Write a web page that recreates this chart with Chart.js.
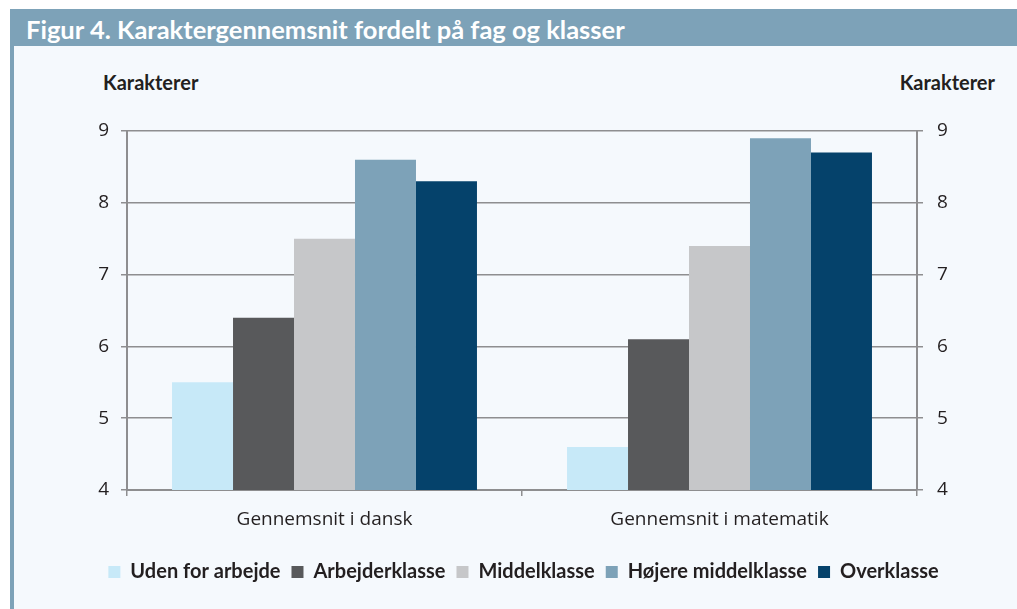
<!doctype html>
<html lang="da">
<head>
<meta charset="UTF-8" />
<title>Figur 4</title>
<style>
  body { margin: 0; background: #ffffff; width: 1017px; height: 609px; overflow: hidden; position: relative; font-family: Lato, sans-serif; }
  #bar { position: absolute; left: 10px; top: 9px; width: 1007px; height: 37px; background: #7da2b8; color: #ffffff; font: bold 25.5px Lato, sans-serif; line-height: 37px; box-sizing: border-box; padding-left: 16px; padding-top: 2px; }
  #panel { position: absolute; left: 10px; top: 46px; width: 1007px; height: 563px; background: #f5f9fd; border-left: 4px solid #7da2b8; box-sizing: border-box; }
  .ytitle { position: absolute; top: 70px; font: bold 20px Lato, sans-serif; color: #231f20; }
  #wrap { position: absolute; left: 14px; top: 46px; }
</style>
</head>
<body>
<div id="bar">Figur 4. Karaktergennemsnit fordelt på fag og klasser</div>
<div id="panel"></div>
<div class="ytitle" style="left:103px;">Karakterer</div>
<div class="ytitle" style="right:22px;">Karakterer</div>
<div id="wrap"><canvas id="canvas" width="1003" height="563"></canvas></div>

<script src="https://cdn.jsdelivr.net/npm/chart.js"></script>
<script>
// data
const categories = ['Gennemsnit i dansk', 'Gennemsnit i matematik']
const udenForArbejde = [5.5, 4.6]
const arbejderklasse = [6.4, 6.1]
const middelklasse = [7.5, 7.4]
const hojereMiddelklasse = [8.6, 8.9]
const overklasse = [8.3, 8.7]
const yTicks = [4, 5, 6, 7, 8, 9]

const axisColor = '#8e8e90'
const textColor = '#231f20'

function series(label, data, color){
  return { label: label, data: data, backgroundColor: color, borderWidth: 0, categoryPercentage: 0.772, barPercentage: 1 }
}

const data_ = {
  labels: categories,
  datasets: [
    series('Uden for arbejde', udenForArbejde, '#c7e9f8'),
    series('Arbejderklasse', arbejderklasse, '#58595b'),
    series('Middelklasse', middelklasse, '#c6c7c9'),
    series('Højere middelklasse', hojereMiddelklasse, '#7da2b8'),
    series('Overklasse', overklasse, '#05426b')
  ]
}

const tickFont = { family: '"Open Sans", sans-serif', size: 19 }

const options = {
  responsive: false,
  animation: false,
  layout: { padding: { top: 85, left: 16, right: 0, bottom: 17 } },
  plugins: {
    legend: {
      position: 'bottom',
      labels: { boxWidth: 12, boxHeight: 12, padding: 11, color: textColor, font: { family: 'Lato, sans-serif', size: 20, weight: 'bold' } }
    },
    tooltip: { enabled: false }
  },
  scales: {
    x: {
      grid: { drawOnChartArea: false, drawTicks: true, tickLength: 6, color: axisColor, lineWidth: 1.5 },
      border: { color: axisColor, width: 2 },
      ticks: { color: textColor, font: tickFont, padding: 12 },
      afterFit: s => { s.height = 61 }
    },
    y: {
      position: 'left', min: 4, max: 9,
      afterBuildTicks: s => { s.ticks = yTicks.map(v => ({ value: v })) },
      grid: { color: axisColor, lineWidth: 1.5, tickLength: 6 },
      border: { color: axisColor, width: 2 },
      ticks: { color: textColor, font: tickFont, padding: 12 },
      afterFit: s => { s.width = 97 }
    },
    y2: {
      position: 'right', min: 4, max: 9,
      afterBuildTicks: s => { s.ticks = yTicks.map(v => ({ value: v })) },
      grid: { drawOnChartArea: false, color: axisColor, lineWidth: 1.5, tickLength: 6 },
      border: { color: axisColor, width: 2 },
      ticks: { color: textColor, font: tickFont, padding: 14 },
      afterFit: s => { s.width = 100 }
    }
  }
}

new Chart(document.getElementById('canvas'), { type: 'bar', data: data_, options: options })
</script>
</body>
</html>
